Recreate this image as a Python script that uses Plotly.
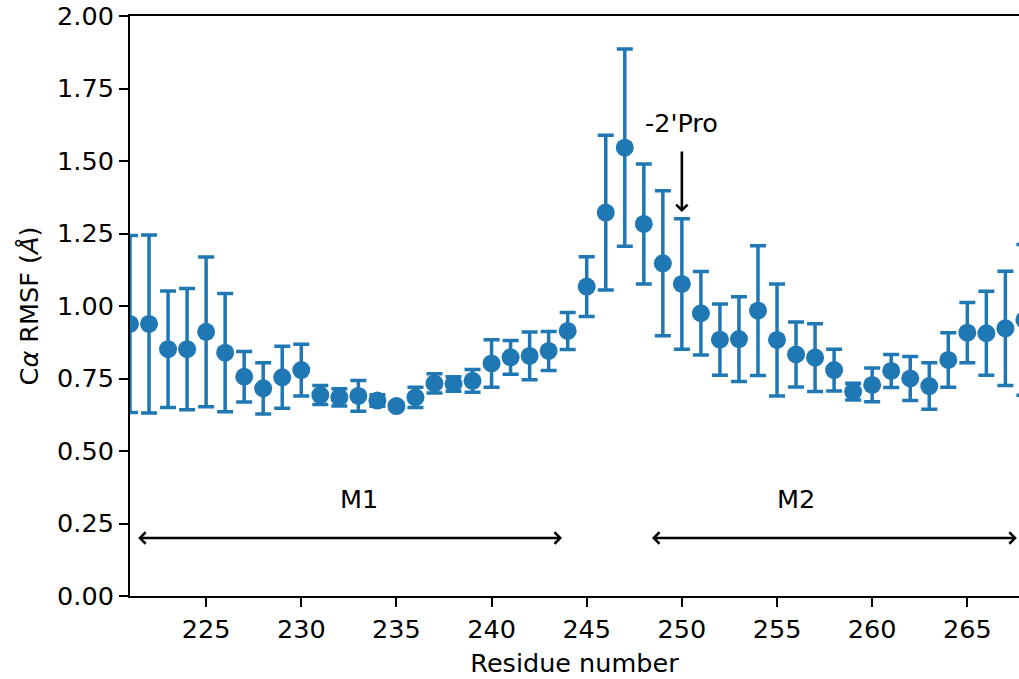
import plotly.graph_objects as go

residues = list(range(221, 269))
rmsf = [0.938, 0.938, 0.851, 0.851, 0.911, 0.839, 0.756, 0.716, 0.754, 0.779,
        0.693, 0.685, 0.690, 0.674, 0.655, 0.685, 0.733, 0.731, 0.742, 0.802,
        0.823, 0.828, 0.845, 0.914, 1.067, 1.322, 1.546, 1.283, 1.147, 1.076,
        0.975, 0.884, 0.886, 0.984, 0.883, 0.833, 0.822, 0.779, 0.705, 0.728,
        0.776, 0.750, 0.724, 0.814, 0.908, 0.906, 0.923, 0.952]
err = [0.305, 0.307, 0.201, 0.209, 0.258, 0.204, 0.087, 0.088, 0.107, 0.089,
       0.033, 0.030, 0.053, 0.020, 0.010, 0.035, 0.033, 0.025, 0.039, 0.082,
       0.058, 0.082, 0.067, 0.064, 0.103, 0.267, 0.340, 0.207, 0.250, 0.225,
       0.144, 0.123, 0.146, 0.224, 0.193, 0.112, 0.117, 0.072, 0.029, 0.058,
       0.057, 0.076, 0.080, 0.094, 0.104, 0.145, 0.197, 0.260]

x_ticks = [225, 230, 235, 240, 245, 250, 255, 260, 265]
y_ticks = [0.0, 0.25, 0.5, 0.75, 1.0, 1.25, 1.5, 1.75, 2.0]
y_tick_labels = ["0.00", "0.25", "0.50", "0.75", "1.00", "1.25", "1.50", "1.75", "2.00"]

regions = [("M1", 233.05, 221.35, 243.7), ("M2", 256.0, 248.35, 267.6)]
region_label_y = 0.334
region_arrow_y = 0.2
pro_label = "-2'Pro"
pro_x = 250
pro_text_y = 1.631
pro_arrow_tail = 1.538
pro_arrow_tip = 1.324

BLUE = "#1f77b4"
FONT = "DejaVu Sans"
FS = 25.5

fig = go.Figure()
fig.add_trace(go.Scatter(
    x=residues, y=rmsf, mode="markers",
    marker=dict(color=BLUE, size=18),
    error_y=dict(type="data", array=err, visible=True, color=BLUE,
                 thickness=3.5, width=8),
    showlegend=False,
))

annotations = []
for name, tx, x0, x1 in regions:
    annotations.append(dict(x=tx, y=region_label_y, xref="x", yref="y", text=name,
                            showarrow=False, font=dict(family=FONT, size=FS, color="black")))
    annotations.append(dict(x=x1, y=region_arrow_y, ax=x0, ay=region_arrow_y,
                            xref="x", yref="y", axref="x", ayref="y", text="",
                            showarrow=True, arrowhead=4, startarrowhead=4,
                            arrowside="end+start", arrowwidth=2.6, arrowsize=0.85,
                            startarrowsize=0.85, arrowcolor="black"))
annotations.append(dict(x=pro_x, y=pro_text_y, xref="x", yref="y", text=pro_label,
                        showarrow=False, font=dict(family=FONT, size=FS, color="black")))
annotations.append(dict(x=pro_x, y=pro_arrow_tip, ax=pro_x, ay=pro_arrow_tail,
                        xref="x", yref="y", axref="x", ayref="y", text="",
                        showarrow=True, arrowhead=4, arrowwidth=2.6, arrowsize=0.85,
                        arrowcolor="black"))

axis_common = dict(showline=True, linecolor="black", linewidth=2,
                   ticks="outside", ticklen=9, tickwidth=2, tickcolor="black",
                   showgrid=False, zeroline=False,
                   tickfont=dict(family=FONT, size=FS, color="black"))

fig.update_layout(
    width=1019, height=679,
    margin=dict(l=130, r=0, t=16, b=83),
    paper_bgcolor="white", plot_bgcolor="white",
    font=dict(family=FONT, size=FS, color="black"),
    xaxis=dict(range=[221, 221 + 889 / 19.03], tickvals=x_ticks, mirror=True,
               title=dict(text="Residue number", standoff=12,
                          font=dict(family=FONT, size=FS, color="black")),
               **axis_common),
    yaxis=dict(range=[0, 2], tickvals=y_ticks, ticktext=y_tick_labels, mirror=False,
               title=dict(text="C<i>α</i> RMSF (<i>Å</i>)", standoff=11,
                          font=dict(family=FONT, size=FS, color="black")),
               **axis_common),
    annotations=annotations,
)

fig.write_html("out.html")
